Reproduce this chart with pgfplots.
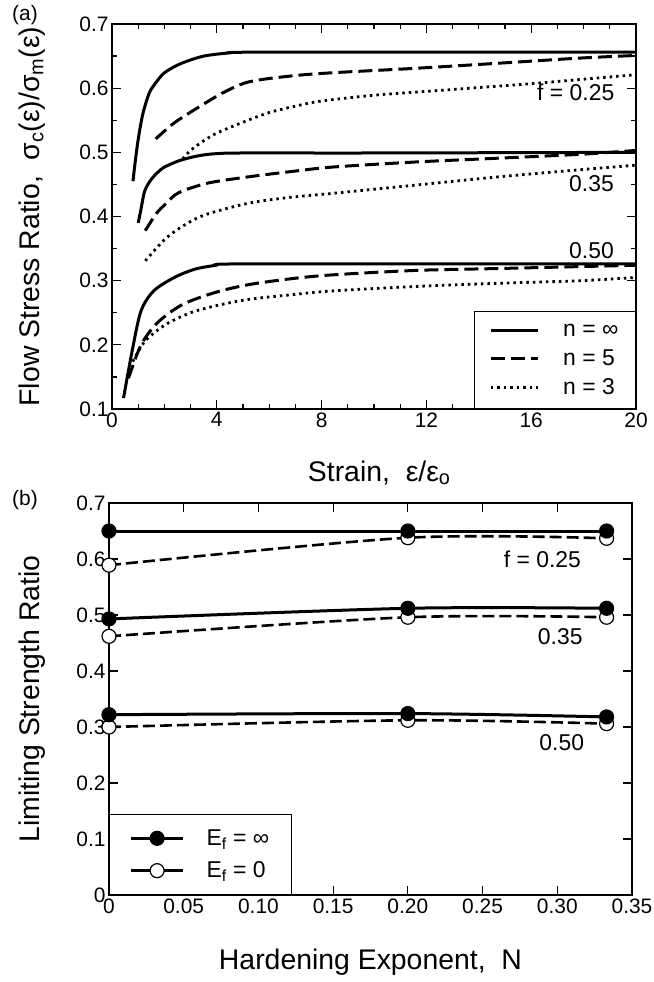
\documentclass[border=0pt]{standalone}
\usepackage{fontspec}
\setmainfont{Liberation Sans}
\usepackage{pgfplots}
\pgfplotsset{compat=1.18}
\newcommand{\tfont}{\fontsize{21}{24}\selectfont}
\newcommand{\gfont}{\fontsize{23}{26}\selectfont}
\newcommand{\lfont}{\fontsize{28.5}{31}\selectfont}
\begin{document}
\begin{tikzpicture}
\useasboundingbox (0,0) rectangle (654bp,-982bp);
\pgfplotsset{
  every axis/.append style={
    scale only axis,
    axis line style={line width=1.5bp},
    tick style={line width=1.2bp, black},
    major tick length=9bp, minor tick length=5bp,
    tick align=inside,
    /pgf/number format/assume math mode=true,
    tick label style={font=\tfont},
    label style={font=\lfont},
  },
  solidc/.style={black, line width=3bp, solid},
  dashc/.style={black, line width=3bp, dash pattern=on 14bp off 6bp},
  dotc/.style={black, line width=2.8bp, dash pattern=on 2.5bp off 4bp},
}
\node[font=\tfont] at (25bp,-15bp) {(a)};
\node[font=\tfont] at (25bp,-500bp) {(b)};

% ---------------- panel (a)
\begin{axis}[
  at={(112bp,-409bp)}, anchor=south west,
  width=524bp, height=385bp,
  xmin=0, xmax=20, ymin=0.1, ymax=0.7,
  xtick={0,4,8,12,16,20}, minor x tick num=3,
  ytick={0.1,0.2,0.3,0.4,0.5,0.6,0.7},
  yticklabels={0.1,0.2,0.3,0.4,0.5,0.6,0.7},
  minor y tick num=1,
  xlabel={Strain,\ \ ε/ε\textsubscript{o}},
  xlabel style={at={(axis description cs:0.51,-0.166)}, anchor=center},
  ylabel={Flow Stress Ratio,\ \ σ\textsubscript{c}(ε)/σ\textsubscript{m}(ε)},
  ylabel style={at={(axis description cs:-0.152,0.5)}, anchor=center},
  legend style={at={(1,0)}, anchor=south east, draw=black, line width=1.2bp,
    font=\gfont, inner xsep=15bp, inner ysep=10bp, row sep=8bp, column sep=22bp,
    cells={anchor=west}},
  legend image code/.code={\draw[#1] (0bp,0bp) -- (47bp,0bp);},
]
% f = 0.25
\addplot[solidc, smooth] coordinates {(0.8,0.455) (0.9,0.49) (1.0,0.52) (1.15,0.555) (1.3,0.578) (1.45,0.595) (1.7,0.61) (2.0,0.624) (2.5,0.636) (3,0.644) (3.5,0.65) (4,0.653) (4.5,0.655) (5,0.656) (10,0.656) (15,0.656) (20,0.656)};
\addlegendentry{n = ∞}
\addplot[dashc, smooth] coordinates {(1.67,0.521) (2.38,0.546) (3.33,0.571) (4.29,0.594) (5.24,0.61) (6.83,0.619) (8.4,0.624) (11.6,0.631) (14.8,0.639) (17.9,0.647) (20,0.651)};
\addlegendentry{n = 5}
\addplot[dotc, smooth] coordinates {(2.7,0.49) (3.0,0.503) (3.5,0.518) (4,0.53) (5,0.547) (6,0.562) (7,0.572) (8,0.58) (10,0.589) (12,0.595) (14,0.601) (16,0.607) (18,0.614) (20,0.621)};
\addlegendentry{n = 3}
% f = 0.35
\addplot[solidc, smooth, forget plot] coordinates {(1.0,0.39) (1.1,0.41) (1.25,0.44) (1.5,0.458) (1.75,0.469) (2,0.477) (2.5,0.486) (3,0.492) (3.5,0.496) (4,0.498) (5,0.499) (10,0.499) (20,0.5)};
\addplot[dashc, smooth, forget plot] coordinates {(1.27,0.378) (1.7,0.405) (2.06,0.42) (2.54,0.437) (3.65,0.452) (5.24,0.462) (6.83,0.47) (8.4,0.477) (11.6,0.485) (14.8,0.491) (17.9,0.497) (20,0.503)};
\addplot[dotc, smooth, forget plot] coordinates {(1.27,0.331) (2.06,0.366) (2.86,0.389) (3.65,0.404) (5.24,0.421) (6.83,0.43) (8.4,0.436) (11.6,0.449) (14.8,0.462) (17.9,0.473) (20,0.48)};
% f = 0.50
\addplot[solidc, smooth, forget plot] coordinates {(0.44,0.117) (0.79,0.195) (1.11,0.253) (1.59,0.284) (2.38,0.305) (3.17,0.318) (3.97,0.324) (4.5,0.326) (10,0.326) (20,0.326)};
\addplot[dashc, smooth, forget plot] coordinates {(0.63,0.148) (1.11,0.2) (1.75,0.235) (2.7,0.263) (3.97,0.282) (5.24,0.294) (6.83,0.303) (8.4,0.309) (11.6,0.316) (14.8,0.319) (20,0.324)};
\addplot[dotc, smooth, forget plot] coordinates {(0.79,0.174) (1.27,0.206) (2.06,0.232) (3.0,0.25) (3.97,0.261) (5.24,0.271) (6.83,0.278) (8.4,0.284) (11.6,0.291) (14.8,0.296) (17.9,0.3) (20,0.305)};
\node[font=\gfont] at (axis cs:17.7,0.594) {f = 0.25};
\node[font=\gfont] at (axis cs:18.3,0.452) {0.35};
\node[font=\gfont] at (axis cs:18.3,0.347) {0.50};
\end{axis}

% ---------------- panel (b)
\begin{axis}[
  at={(109bp,-895bp)}, anchor=south west,
  width=523bp, height=392bp,
  xmin=0, xmax=0.35, ymin=0, ymax=0.7,
  xtick={0,0.05,0.10,0.15,0.20,0.25,0.30,0.35},
  xticklabels={0,0.05,0.10,0.15,0.20,0.25,0.30,0.35},
  ytick={0,0.1,0.2,0.3,0.4,0.5,0.6,0.7},
  yticklabels={0,0.1,0.2,0.3,0.4,0.5,0.6,0.7},
  xlabel={Hardening Exponent,\ \ N},
  xlabel style={at={(axis description cs:0.5,-0.171)}, anchor=center},
  ylabel={Limiting Strength Ratio},
  ylabel style={at={(axis description cs:-0.147,0.5)}, anchor=center},
  legend style={at={(0,0)}, anchor=south west, draw=black, line width=1.2bp,
    font=\gfont, inner xsep=20bp, inner ysep=13bp, row sep=11bp, column sep=20bp,
    cells={anchor=west}},
  legend image code/.code={\draw[#1, mark repeat=2, mark phase=2] plot coordinates {(0bp,0bp) (26bp,0bp) (52bp,0bp)};},
]
\addlegendimage{black, line width=3bp, solid, mark=*, mark size=7bp, mark options={fill=black, line width=1.2bp}}
\addlegendentry{E\textsubscript{f} = ∞}
\addlegendimage{black, line width=3bp, solid, mark=*, mark size=7bp, mark options={fill=white, line width=1.2bp}}
\addlegendentry{E\textsubscript{f} = 0}
% E_f = 0 (dashed, open)
\addplot[black, line width=2.6bp, dash pattern=on 12bp off 5bp, smooth, mark=*, mark size=7bp, mark options={solid, fill=white, line width=1.2bp}, forget plot] coordinates {(0,0.589) (0.2,0.638) (0.333,0.637)};
\addplot[black, line width=2.6bp, dash pattern=on 12bp off 5bp, smooth, mark=*, mark size=7bp, mark options={solid, fill=white, line width=1.2bp}, forget plot] coordinates {(0,0.462) (0.2,0.496) (0.333,0.496)};
\addplot[black, line width=2.6bp, dash pattern=on 12bp off 5bp, smooth, mark=*, mark size=7bp, mark options={solid, fill=white, line width=1.2bp}, forget plot] coordinates {(0,0.300) (0.2,0.312) (0.333,0.306)};
% E_f = inf (solid, filled)
\addplot[black, line width=3bp, smooth, mark=*, mark size=7bp, mark options={fill=black, line width=1.2bp}, forget plot] coordinates {(0,0.650) (0.2,0.650) (0.333,0.650)};
\addplot[black, line width=3bp, smooth, mark=*, mark size=7bp, mark options={fill=black, line width=1.2bp}, forget plot] coordinates {(0,0.493) (0.2,0.512) (0.333,0.512)};
\addplot[black, line width=3bp, smooth, mark=*, mark size=7bp, mark options={fill=black, line width=1.2bp}, forget plot] coordinates {(0,0.322) (0.2,0.324) (0.333,0.318)};
\node[font=\gfont] at (axis cs:0.29,0.6) {f = 0.25};
\node[font=\gfont] at (axis cs:0.302,0.461) {0.35};
\node[font=\gfont] at (axis cs:0.303,0.272) {0.50};
\end{axis}
\end{tikzpicture}
\end{document}
